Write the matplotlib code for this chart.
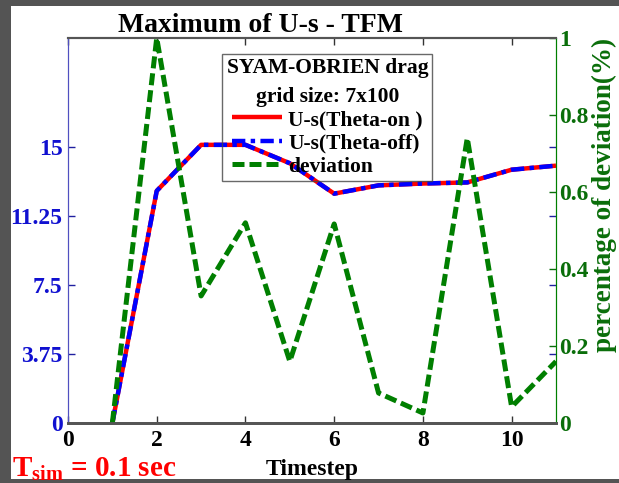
import matplotlib
matplotlib.use('Agg')
import matplotlib.pyplot as plt
from matplotlib.patches import Rectangle

plt.rcParams['font.family'] = ['Liberation Serif', 'DejaVu Serif']
plt.rcParams['font.weight'] = 'bold'
plt.rcParams['mathtext.fontset'] = 'custom'
plt.rcParams['mathtext.bf'] = 'Liberation Serif:bold'
plt.rcParams['mathtext.rm'] = 'Liberation Serif:bold'

# data
timestep = [1, 2, 3, 4, 5, 6, 7, 8, 9, 10, 11]
us_theta_on = [0, 12.6, 15.1, 15.1, 14.1, 12.45, 12.9, 13.0, 13.06, 13.75, 13.97]
us_theta_off = [0, 12.6, 15.1, 15.1, 14.1, 12.45, 12.9, 13.0, 13.06, 13.75, 13.97]
deviation = [0, 1.0, 0.33, 0.52, 0.16, 0.517, 0.078, 0.026, 0.74, 0.042, 0.16]

x_ticks = [0, 2, 4, 6, 8, 10]
left_ticks = [0, 3.75, 7.5, 11.25, 15]
left_ticklabels = ['0', '3.75', '7.5', '11.25', '15']
right_ticks = [0, 0.2, 0.4, 0.6, 0.8, 1]
right_ticklabels = ['0', '0.2', '0.4', '0.6', '0.8', '1']

blue = '#0000ff'
red = '#ff0000'
green = '#007f00'
dgreen = '#0a6e0a'

fig = plt.figure(figsize=(6.19, 4.83), dpi=100, facecolor='#545454')
fig.patches.append(Rectangle((11 / 619, 4 / 483), 608 / 619, 473 / 483,
                             transform=fig.transFigure, facecolor='white',
                             edgecolor='none', zorder=-10))

ax1 = fig.add_axes([68 / 619, 60 / 483, 488 / 619, 385 / 483])
ax2 = ax1.twinx()

l1, = ax1.plot(timestep, us_theta_on, color=red, lw=3.2, solid_capstyle='butt')
l2, = ax1.plot(timestep, us_theta_off, color=blue, lw=3.2, linestyle=(0, (3, 1.2, 1, 1.2)))
l3, = ax2.plot(timestep, deviation, color=green, lw=3.6, linestyle=(0, (2.4, 1.0)))

ax1.set_xlim(0, 11)
ax1.set_ylim(0, 20.9)
ax2.set_ylim(0, 1)

ax1.set_xticks(x_ticks)
ax1.set_xticklabels([str(t) for t in x_ticks], fontsize=17, fontweight='bold')
ax1.set_yticks(left_ticks)
ax1.set_yticklabels(left_ticklabels, fontsize=17, fontweight='bold', color='#1010d0')
ax2.set_yticks(right_ticks)
ax2.set_yticklabels(right_ticklabels, fontsize=17, fontweight='bold', color=dgreen)

ax1.tick_params(axis='x', direction='in', top=True, length=5, width=1, color='#333333', pad=5)
ax1.tick_params(axis='y', direction='in', right=True, length=5, width=1, color='#2020a0', pad=4)
ax2.tick_params(axis='y', direction='in', length=5, width=1, color=dgreen, pad=2)

for ax in (ax1, ax2):
    ax.spines['bottom'].set_color('#555555')
    ax.spines['bottom'].set_linewidth(2)
    ax.spines['top'].set_color('#555555')
    ax.spines['top'].set_linewidth(1.5)
    ax.spines['left'].set_color('#5050c0')
    ax.spines['right'].set_color(green)

ax1.set_xlabel('Timestep', fontsize=17, fontweight='bold', labelpad=5.5)
ax2.set_ylabel('percentage of deviation(%)', fontsize=19.5, fontweight='bold', color=dgreen)
ax2.yaxis.label.set_verticalalignment('baseline')
ax2.yaxis.set_label_coords(1.1127, 0.592)

ax1.set_title('Maximum of U-s - TFM', fontsize=20, fontweight='bold', pad=3.5, x=0.395)

leg = ax2.legend([l1, l2, l3], ['U-s(Theta-on )', 'U-s(Theta-off)', 'deviation'],
                 title='SYAM-OBRIEN drag\ngrid size: 7x100',
                 loc='upper left', bbox_to_anchor=(0.316, 0.958),
                 prop={'size': 15.5, 'weight': 'bold'},
                 title_fontproperties={'size': 15.5, 'weight': 'bold'},
                 handlelength=2.3, handletextpad=0.3, borderpad=0.2,
                 labelspacing=0.15, borderaxespad=0, fancybox=False,
                 facecolor='none', edgecolor='#444444', framealpha=None)
leg.get_frame().set_linewidth(1)
leg.get_title().set_multialignment('center')
leg.get_title().set_linespacing(1.55)

fig.text(12 / 619, 0, r'T$_{\mathbf{sim}}$ = 0.1 sec', color=red,
         fontsize=21, fontweight='bold', ha='left', va='bottom')

fig.savefig('out.png', dpi=100, facecolor=fig.get_facecolor())
